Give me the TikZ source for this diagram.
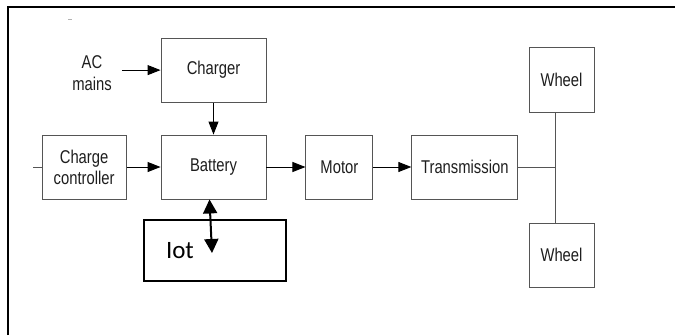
\documentclass[tikz,border=0pt]{standalone}
\usepackage{fontspec}
\usetikzlibrary{arrows.meta,positioning,calc}
\newfontfamily\diagfont[FakeStretch=0.8]{Liberation Sans}
\newfontfamily\iotfont{Carlito}
\definecolor{BoxGray}{RGB}{85,85,85}
\definecolor{Ink}{RGB}{30,30,30}
\tikzset{
  blk/.style={draw=BoxGray, line width=0.9pt, fill=white, text=Ink, align=center,
    inner sep=0pt, minimum height=64pt, font=\diagfont\fontsize{18.5}{21}\selectfont},
  iotbox/.style={draw=black, line width=1.8pt, inner xsep=22pt, inner ysep=0pt, text width=98pt,
    align=left, minimum height=61pt, font=\iotfont\fontsize{25}{28}\selectfont},
  flowarr/.style={-{Triangle[length=13pt,width=10pt]}, draw=black, line width=0.9pt},
  link/.style={draw=BoxGray, line width=0.9pt},
  twoway/.style={{Triangle[length=14pt,width=14pt]}-{Triangle[length=14pt,width=14pt]}, draw=black, line width=2pt},
}
\begin{document}
\begin{tikzpicture}[x=1pt, y=-1pt]
  \useasboundingbox (0,0) rectangle (675,335);
  \draw[black, line width=2pt] (8,335) -- (8,7) -- (675,7);
  \draw[gray!60, line width=1pt] (68,19) -- (72,19);

  \node[blk, minimum width=105pt] (bat) at (213.5,167) {Battery};
  \node[blk, minimum width=105pt, above=32pt of bat] (chg) {Charger};
  \node[blk, minimum width=84pt, left=34pt of bat] (cc) {Charge\\controller};
  \node[blk, minimum width=67pt, right=39pt of bat] (mot) {Motor};
  \node[blk, minimum width=106pt, right=38pt of mot] (tr) {Transmission};
  \node[blk, minimum width=65pt, minimum height=65pt] (wh1) at (561.5,79.5) {Wheel};
  \node[blk, minimum width=65pt] (wh2) at (561.5,255) {Wheel};
  \node[align=center, inner xsep=10pt, font=\diagfont\fontsize{18.5}{22}\selectfont, text=Ink] (ac) at (92,73) {AC\\mains};
  \node[iotbox, minimum width=142pt] (iot) at (215,250.5) {Iot};

  \coordinate (ccin) at (33,167);
  \coordinate (hub) at (555,167);
  \coordinate (iotend) at (212,253);

  \draw[flowarr] (ac.east |- chg.west) -- (chg.west);
  \draw[flowarr] (chg) -- (bat);
  \draw[link] (ccin) -- (cc.west);
  \draw[flowarr] (cc) -- (bat); \draw[flowarr] (bat) -- (mot); \draw[flowarr] (mot) -- (tr);
  \draw[link] (tr.east) -- (hub);
  \draw[link] (wh1.south -| hub) -- (wh2.north -| hub);
  \draw[twoway] ($(bat.south)+(-4,0)$) -- (iotend);
\end{tikzpicture}
\end{document}
